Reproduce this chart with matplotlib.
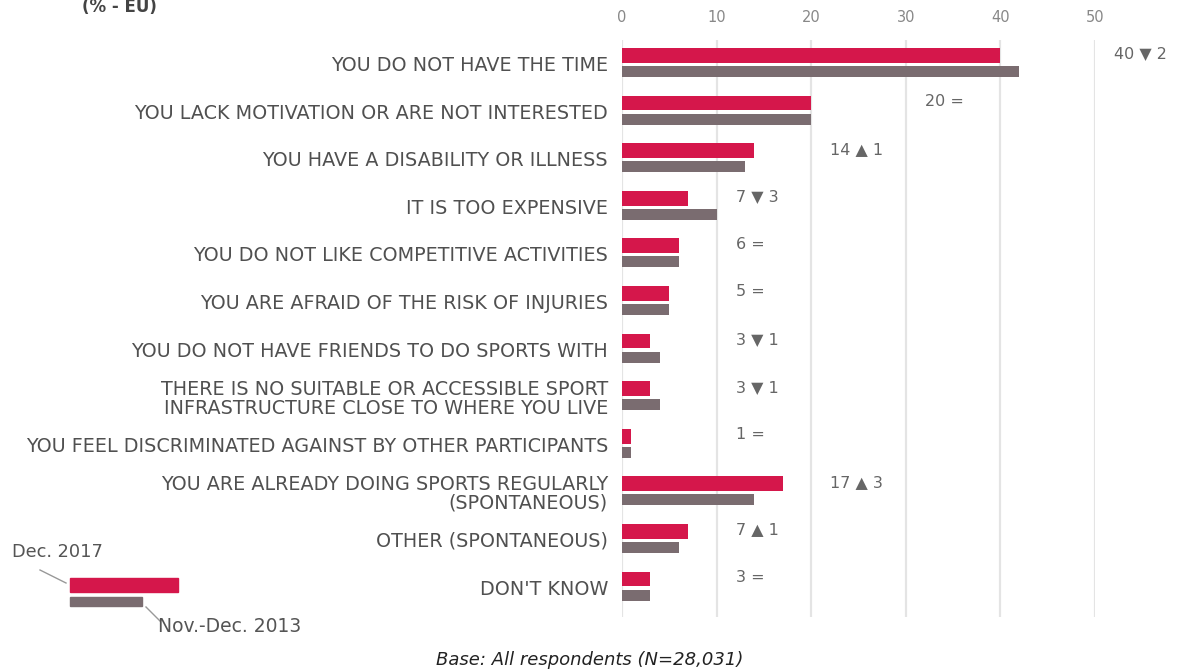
import matplotlib
matplotlib.use("Agg")
import matplotlib.pyplot as plt
from matplotlib.patches import Rectangle
from matplotlib.lines import Line2D
import numpy as np

categories = [
    "YOU DO NOT HAVE THE TIME",
    "YOU LACK MOTIVATION OR ARE NOT INTERESTED",
    "YOU HAVE A DISABILITY OR ILLNESS",
    "IT IS TOO EXPENSIVE",
    "YOU DO NOT LIKE COMPETITIVE ACTIVITIES",
    "YOU ARE AFRAID OF THE RISK OF INJURIES",
    "YOU DO NOT HAVE FRIENDS TO DO SPORTS WITH",
    "THERE IS NO SUITABLE OR ACCESSIBLE SPORT\nINFRASTRUCTURE CLOSE TO WHERE YOU LIVE",
    "YOU FEEL DISCRIMINATED AGAINST BY OTHER PARTICIPANTS",
    "YOU ARE ALREADY DOING SPORTS REGULARLY\n(SPONTANEOUS)",
    "OTHER (SPONTANEOUS)",
    "DON'T KNOW",
]
dec2017 = [40, 20, 14, 7, 6, 5, 3, 3, 1, 17, 7, 3]
nov2013 = [42, 20, 13, 10, 6, 5, 4, 4, 1, 14, 6, 3]
change_sign = ["down", "eq", "up", "down", "eq", "eq", "down", "down", "eq", "up", "up", "eq"]
change_val = [2, 0, 1, 3, 0, 0, 1, 1, 0, 3, 1, 0]
xticks = [0, 10, 20, 30, 40, 50]
legend_labels = ["Dec. 2017", "Nov.-Dec. 2013"]

RED = "#d5174b"
GRAY = "#7a6c70"
TXT = "#505050"
FAM = ["DejaVu Sans"]

W, H = 1179, 670
fig = plt.figure(figsize=(W / 100, H / 100), dpi=100)
ax = fig.add_axes([622 / W, 53 / H, 473 / W, (617 - 40) / H])

y = np.arange(len(categories))
ax.barh(y - 0.17, dec2017, height=0.31, color=RED, zorder=3)
ax.barh(y + 0.17, nov2013, height=0.23, color=GRAY, zorder=3)

ax.set_xlim(0, 50)
ax.set_ylim(11.63, -0.494)
ax.set_xticks(xticks)
ax.set_xticklabels([str(t) for t in xticks], fontsize=10.5, color="#888888", family=FAM)
ax.xaxis.tick_top()
ax.tick_params(axis="x", length=0, pad=11)
ax.set_yticks(y)
ax.set_yticklabels(categories, fontsize=13.8, color=TXT, family=FAM, linespacing=1.0)
ax.tick_params(axis="y", length=0, pad=10)
for s in ax.spines.values():
    s.set_visible(False)
for t in xticks:
    ax.axvline(t, color="#e4e4e4", lw=1.6, zorder=1)

sym = {"down": "\u25BC", "up": "\u25B2", "eq": "="}
for i, (v, sg, d) in enumerate(zip(dec2017, change_sign, change_val)):
    xpos = (v // 10) * 10 + 12
    if sg == "eq":
        s = f"{v} ="
    else:
        s = f"{v} {sym[sg]} {d}"
    ax.text(xpos, i - 0.2, s, fontsize=11.5, color="#666666", va="center", ha="left",
            family=FAM, clip_on=False)

# legend
fig.patches.append(Rectangle((70 / W, (H - 592) / H), 108 / W, 14 / H,
                             transform=fig.transFigure, color=RED))
fig.patches.append(Rectangle((70 / W, (H - 606) / H), 72 / W, 9 / H,
                             transform=fig.transFigure, color=GRAY))
fig.text(12 / W, 1 - 552 / H, legend_labels[0], fontsize=12.8, color="#555555",
         va="center", ha="left", family=FAM)
fig.text(158 / W, 1 - 627 / H, legend_labels[1], fontsize=13.5, color="#555555",
         va="center", ha="left", family=FAM)
fig.lines.append(Line2D([40 / W, 66 / W], [1 - 570 / H, 1 - 583 / H],
                        transform=fig.transFigure, color="#999999", lw=1))
fig.lines.append(Line2D([146 / W, 160 / W], [1 - 607 / H, 1 - 621 / H],
                        transform=fig.transFigure, color="#999999", lw=1))

fig.text(82 / W, 1 - 7 / H, "(% - EU)", fontsize=12, fontweight="bold", color="#444444",
         va="center", ha="left", family=FAM)
fig.text(0.5, 10 / H, "Base: All respondents (N=28,031)", fontsize=13, style="italic",
         color="#222222", va="center", ha="center", family=FAM)

fig.savefig("out.png", dpi=100)
